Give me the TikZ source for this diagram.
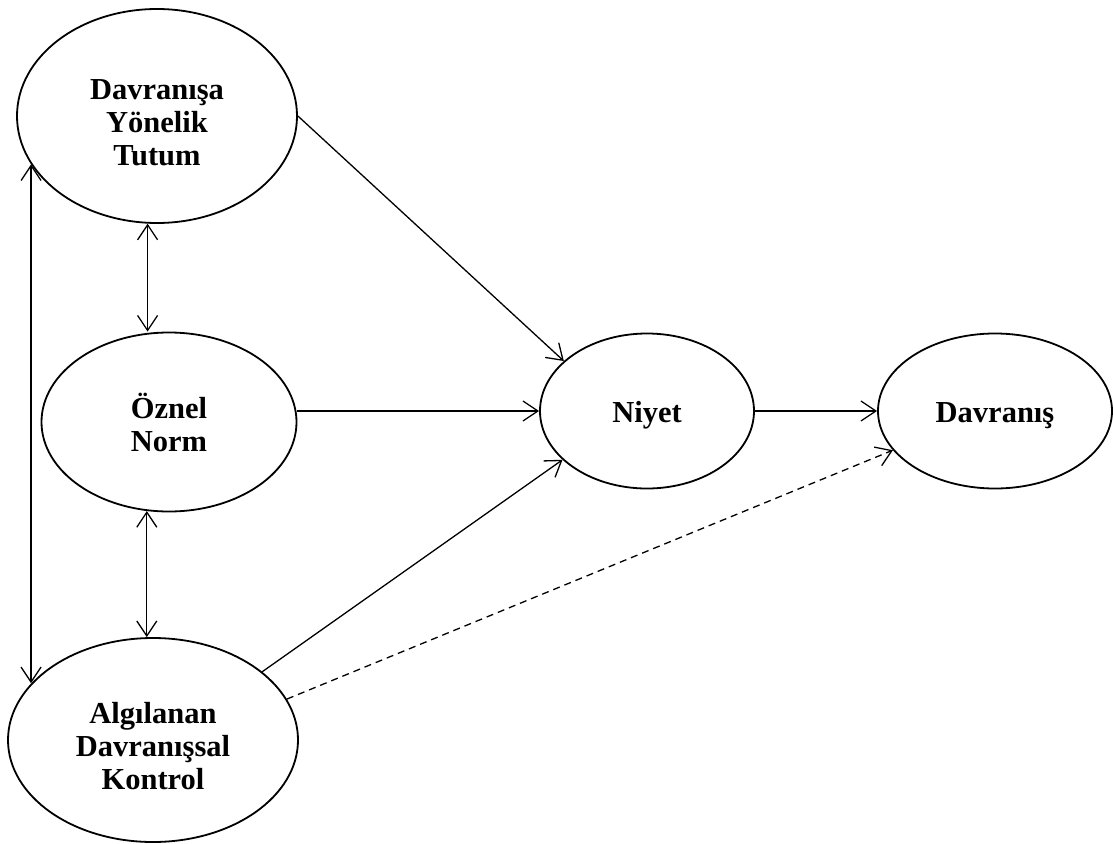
\documentclass[tikz,border=0pt]{standalone}
\usepackage{fontspec}
\setmainfont{Liberation Serif}
\usetikzlibrary{arrows.meta,shapes.geometric}
\tikzset{oval/.style={draw,ellipse,line width=1.8pt,inner sep=0,align=center,
        font=\fontsize{30.5}{33}\selectfont\bfseries},
    link/.style={line width=1.3pt,-{Straight Barb[length=15pt,width=20pt]}},
    twoway/.style={line width=1.3pt,{Straight Barb[length=15pt,width=20pt]}-{Straight Barb[length=15pt,width=20pt]}},
    guess/.style={link,dash pattern=on 7pt off 5pt}}

\begin{document}
\begin{tikzpicture}[x=1pt,y=-1pt]

\useasboundingbox (0,0) rectangle (1113,843);

\node (tutum) [oval,minimum width=280pt,minimum height=214pt] at (157,116) {\rule{0pt}{33pt}Davranışa\\Yönelik\\Tutum};
\node (norm) [oval,minimum width=255pt,minimum height=179pt] at (169,422) {Öznel\\Norm};
\node (kontrol) [oval,minimum width=290pt,minimum height=204pt] at (153,740) {\rule{0pt}{34pt}Algılanan\\Davranışsal\\Kontrol};

\node (niyet) [oval,minimum width=214pt,minimum height=155pt] at (647,411) {\rule{0pt}{29pt}Niyet};
\node (davranis) [oval,minimum width=234pt,minimum height=155pt] at (995,411) {\rule{0pt}{29pt}Davranış};

% karsilikli iliskiler
\draw [twoway] (tutum.265) -- (tutum.265 |- norm.north);
\draw [twoway] (norm.256) -- (norm.256 |- kontrol.north);
\draw [twoway] (tutum.201) -- (tutum.201 |- kontrol.155);

% niyete giden yollar
\draw [link] (tutum.east) -- (niyet.149);
\draw [link] (niyet.west -| norm.east) -- (niyet.west);
\draw [link] (kontrol.32) -- (niyet.210);

\draw [link] (niyet.east) -- (davranis.west);
\draw [guess] (kontrol.17) -- (davranis.201);

\end{tikzpicture}
\end{document}
